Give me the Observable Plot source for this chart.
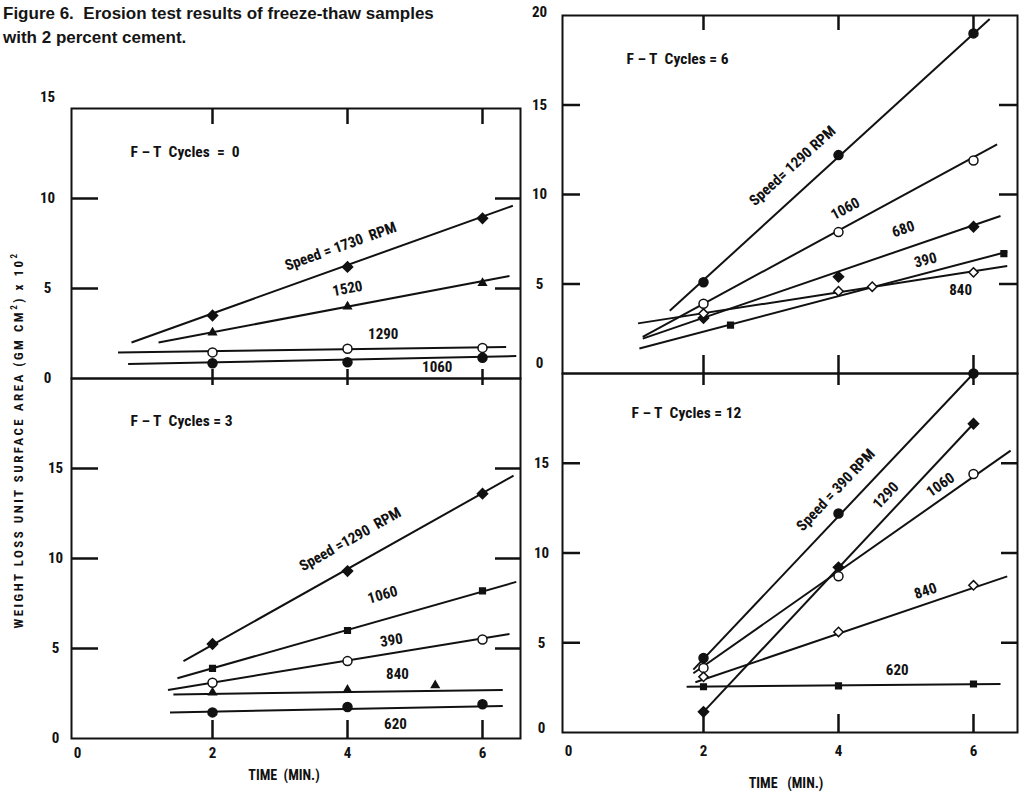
<!DOCTYPE html>
<html><head><meta charset="utf-8">
<script src="https://cdn.jsdelivr.net/npm/d3@7"></script>
<script src="https://cdn.jsdelivr.net/npm/@observablehq/plot@0.6"></script>
<style>
body{margin:0;background:#fff;}
#wrap{position:relative;width:1019px;height:795px;overflow:hidden;background:#fff;}
#title{position:absolute;left:3px;top:2px;font:bold 17px/24px "Liberation Sans",Arial,sans-serif;color:#151515;}
.cond{font-family:"Liberation Sans Narrow","Roboto Condensed",Roboto,sans-serif;font-weight:bold;color:#111;}
#ytitle{position:absolute;left:18px;top:440px;transform:translate(-50%,-50%) rotate(-90deg);white-space:nowrap;font-size:13px;letter-spacing:2.5px;}
#ytitle sup{font-size:9px;line-height:0;}
</style></head>
<body><div id="wrap">
<div id="title">Figure 6.&nbsp; Erosion test results of freeze-thaw samples<br>with 2 percent cement.</div>
<div id="ytitle" class="cond">WEIGHT LOSS UNIT SURFACE AREA (GM CM<sup>2</sup>) x 10<sup>2</sup></div>
</div>
<script>
// ---------------- data ----------------
const xTickValues = [2, 4, 6];
const xTickLabels = [0, 2, 4, 6];

// F-T Cycles = 0
const ft0Speeds = ["1730", "1520", "1290", "1060"];
const ft0Times  = [[2, 4, 6], [2, 4, 6], [2, 4, 6], [2, 4, 6]];
const ft0Values = [[3.5, 6.2, 8.9], [2.55, 4.0, 5.3], [1.45, 1.65, 1.7], [0.85, 0.9, 1.15]];
const ft0Fits   = [[0.8, 2.0, 6.45, 9.6], [1.2, 2.0, 6.4, 5.7], [0.6, 1.45, 6.35, 1.75], [0.75, 0.8, 6.5, 1.25]];
const ft0YTicks = [0, 5, 10, 15];

// F-T Cycles = 3
const ft3Speeds = ["1290", "1060", "390", "840", "620"];
const ft3Times  = [[2, 4, 6], [2, 4, 6], [2, 4, 6], [2, 4, 5.3], [2, 4, 6]];
const ft3Values = [[5.25, 9.3, 13.6], [3.9, 6.0, 8.2], [3.1, 4.3, 5.5], [2.55, 2.7, 2.95], [1.45, 1.75, 1.9]];
const ft3Fits   = [[1.57, 4.3, 6.46, 14.6], [1.48, 3.35, 6.5, 8.7], [1.34, 2.7, 6.4, 5.8], [1.42, 2.45, 6.3, 2.7], [1.37, 1.45, 6.3, 1.8]];
const ft3YTicks = [0, 5, 10, 15];

// F-T Cycles = 6
const ft6Speeds = ["1290", "1060", "680", "390", "840"];
const ft6Times  = [[2, 4, 6], [2, 4, 6], [2, 4, 6], [2.4, 6.45], [2, 4, 4.5, 6]];
const ft6Values = [[5.1, 12.2, 19.0], [3.9, 7.9, 11.9], [3.1, 5.4, 8.2], [2.7, 6.7], [3.35, 4.6, 4.85, 5.65]];
const ft6Fits   = [[1.5, 3.5, 6.24, 19.8], [1.1, 2.05, 6.35, 12.8], [1.1, 1.95, 6.4, 8.8], [1.05, 1.4, 6.5, 6.8], [1.03, 2.8, 6.5, 6.0]];
const ft6YTicks = [0, 5, 10, 15, 20];

// F-T Cycles = 12
const ft12Speeds = ["390", "1290", "1060", "840", "620"];
const ft12Times  = [[2, 4, 6], [2, 4, 6], [2, 4, 6], [2, 4, 6], [2, 4, 6]];
const ft12Values = [[4.15, 12.2, 20.0], [1.15, 9.2, 17.2], [3.6, 8.7, 14.4], [3.1, 5.6, 8.2], [2.55, 2.6, 2.7]];
const ft12Fits   = [[1.85, 3.5, 6.0, 20.0], [2.0, 1.15, 6.0, 17.2], [1.85, 3.3, 6.55, 15.7], [1.88, 2.8, 6.5, 8.7], [1.75, 2.55, 6.4, 2.7]];
const ft12YTicks = [0, 5, 10, 15];

// ---------------- styles & layout ----------------
const INK = "#111";
const FONT = '"Liberation Sans Narrow","Roboto Condensed",Roboto,sans-serif';
const markerStyles = {
  fd: {symbol: "diamond2", fill: INK, stroke: INK, r: 4.6},
  od: {symbol: "diamond2", fill: "white", stroke: INK, r: 4.2},
  ft: {symbol: "triangle", fill: INK, stroke: INK, r: 2.8},
  oc: {symbol: "circle", fill: "white", stroke: INK, r: 4.5},
  fc: {symbol: "circle", fill: INK, stroke: INK, r: 4.5},
  fs: {symbol: "square", fill: INK, stroke: INK, r: 3.2}
};

const panels = [
  { title: "F \u2013 T\u00a0 Cycles\u00a0 = \u00a00", titleDx: 59, titleDy: 44,
    speeds: ft0Speeds, times: ft0Times, values: ft0Values, fits: ft0Fits, yTicks: ft0YTicks,
    frame: [71, 108, 520, 378], xDomain: [-0.089, 6.563], yDomain: [0, 15],
    markers: ["fd", "ft", "oc", "fc"],
    labels: [
      {text: "Speed = 1730\u00a0 RPM", at: 3.9, dy: -21, rot: true},
      {text: "1520", at: 4.0, dy: -18, rot: true},
      {text: "1290", at: 4.53, dy: -15, rot: false},
      {text: "1060", at: 5.33, dy: 10, rot: false}],
    leftTicks: [5, 10], rightTicks: [5, 10], leftLen: 27, rightLen: 25,
    topTicks: xTickValues, bottomTicks: xTickValues, topLen: 16, bottomLen: 9,
    yLabelDx: -24, yLabelShift: {15: -11}, xLabels: null },
  { title: "F \u2013 T\u00a0 Cycles = 3", titleDx: 59, titleDy: 43,
    speeds: ft3Speeds, times: ft3Times, values: ft3Values, fits: ft3Fits, yTicks: ft3YTicks,
    frame: [71, 378, 520, 738], xDomain: [-0.089, 6.563], yDomain: [0, 20],
    markers: ["fd", "fs", "oc", "ft", "fc"],
    labels: [
      {text: "Speed =1290\u00a0 RPM", at: 4.04, dy: -28, rot: true},
      {text: "1060", at: 4.52, dy: -25, rot: true},
      {text: "390", at: 4.65, dy: -13, rot: true},
      {text: "840", at: 4.74, dy: -17, rot: false},
      {text: "620", at: 4.71, dy: 16, rot: false}],
    leftTicks: [5, 10, 15], rightTicks: [5, 10, 15], leftLen: 27, rightLen: 25,
    topTicks: xTickValues, bottomTicks: xTickValues, topLen: 7, bottomLen: 18,
    yLabelDx: -16, yLabelShift: {}, xLabels: xTickLabels, xLabelDy: 15,
    axisTitle: "TIME\u00a0 (MIN.)", axisTitleDx: -12, axisTitleDy: 37 },
  { title: "F \u2013 T\u00a0 Cycles = 6", titleDx: 64, titleDy: 44,
    speeds: ft6Speeds, times: ft6Times, values: ft6Values, fits: ft6Fits, yTicks: ft6YTicks,
    frame: [562, 15, 1017, 373], xDomain: [-0.089, 6.652], yDomain: [0, 20],
    markers: ["fc", "oc", "fd", "fs", "od"],
    labels: [
      {text: "Speed= 1290 RPM", at: 3.32, dy: -33, rot: true},
      {text: "1060", at: 4.1, dy: -18, rot: true},
      {text: "680", at: 4.96, dy: -20, rot: true},
      {text: "390", at: 5.29, dy: -13, rot: true},
      {text: "840", at: 5.81, dy: 17, rot: false}],
    leftTicks: [5, 10, 15], rightTicks: [5, 10, 15], leftLen: 18, rightLen: 18,
    topTicks: xTickValues, bottomTicks: xTickValues, topLen: 15, bottomLen: 18,
    yLabelDx: -23, yLabelShift: {0: -10, 20: -3}, xLabels: null },
  { title: "F \u2013 T\u00a0 Cycles = 12", titleDx: 69, titleDy: 40,
    speeds: ft12Speeds, times: ft12Times, values: ft12Values, fits: ft12Fits, yTicks: ft12YTicks,
    frame: [562, 373, 1017, 732], xDomain: [-0.089, 6.652], yDomain: [0, 20],
    markers: ["fc", "fd", "oc", "od", "fs"],
    labels: [
      {text: "Speed = 390 RPM", at: 3.96, dy: -29, rot: true},
      {text: "1290", at: 4.7, dy: -22, rot: true},
      {text: "1060", at: 5.51, dy: -15, rot: true},
      {text: "840", at: 5.29, dy: -13, rot: true},
      {text: "620", at: 4.87, dy: -15, rot: false}],
    leftTicks: [5, 10, 15], rightTicks: [5, 10, 15], leftLen: 18, rightLen: 16,
    topTicks: xTickValues, bottomTicks: xTickValues, topLen: 12, bottomLen: 18,
    yLabelDx: -21, yLabelShift: {0: -4}, xLabels: xTickLabels, xLabelDy: 19,
    axisTitle: "TIME\u00a0 \u00a0(MIN.)", axisTitleDx: -4, axisTitleDy: 51 }
];

function lineAt(f, t) { return f[1] + (t - f[0]) * (f[3] - f[1]) / (f[2] - f[0]); }

const wrap = document.getElementById("wrap");
const M = 40;

for (const cfg of panels) {
  const [L, T, R, B] = cfg.frame;
  const fw = R - L, fh = B - T;
  const kx = fw / (cfg.xDomain[1] - cfg.xDomain[0]);
  const ky = fh / (cfg.yDomain[1] - cfg.yDomain[0]);
  const marks = [];
  // inward tick marks
  marks.push(Plot.tickY(cfg.leftTicks, {y: d => d, insetRight: fw - cfg.leftLen, stroke: INK, strokeWidth: 2.5}));
  marks.push(Plot.tickY(cfg.rightTicks, {y: d => d, insetLeft: fw - cfg.rightLen, stroke: INK, strokeWidth: 2.5}));
  marks.push(Plot.tickX(cfg.topTicks, {x: d => d, insetBottom: fh - cfg.topLen, stroke: INK, strokeWidth: 2.5}));
  marks.push(Plot.tickX(cfg.bottomTicks, {x: d => d, insetTop: fh - cfg.bottomLen, stroke: INK, strokeWidth: 2.5}));
  marks.push(Plot.frame({stroke: INK, strokeWidth: 2}));
  // fitted lines
  marks.push(Plot.link(cfg.fits, {x1: d => d[0], y1: d => d[1], x2: d => d[2], y2: d => d[3], stroke: INK, strokeWidth: 2}));
  // measured points
  cfg.speeds.forEach((s, i) => {
    const ms = markerStyles[cfg.markers[i]];
    const idx = d3.range(cfg.times[i].length);
    marks.push(Plot.dot(idx, {x: j => cfg.times[i][j], y: j => cfg.values[i][j],
      symbol: ms.symbol, fill: ms.fill, stroke: ms.stroke, strokeWidth: 1.5, r: ms.r}));
  });
  // series labels placed along their fitted lines
  cfg.labels.forEach((lab, i) => {
    const f = cfg.fits[i];
    const slope = (f[3] - f[1]) / (f[2] - f[0]);
    const angle = lab.rot ? -Math.atan(slope * ky / kx) * 180 / Math.PI : 0;
    marks.push(Plot.text([lab], {x: d => d.at, y: d => lineAt(f, d.at), text: d => d.text,
      dy: lab.dy, rotate: angle, textAnchor: "middle", lineAnchor: "middle", fontSize: 15}));
  });
  // panel title
  marks.push(Plot.text([cfg.title], {frameAnchor: "top-left", text: d => d, dx: cfg.titleDx, dy: cfg.titleDy,
    textAnchor: "start", lineAnchor: "middle", fontSize: 15.5}));
  // y tick labels
  cfg.yTicks.forEach(v => {
    marks.push(Plot.text([v], {y: d => d, text: d => String(d), frameAnchor: "left", dx: cfg.yLabelDx,
      dy: cfg.yLabelShift[v] || 0, textAnchor: "middle", lineAnchor: "middle", fontSize: 15}));
  });
  // x tick labels + axis title
  if (cfg.xLabels) {
    marks.push(Plot.text(cfg.xLabels, {x: d => d, text: d => String(d), frameAnchor: "bottom", dy: cfg.xLabelDy,
      textAnchor: "middle", lineAnchor: "middle", fontSize: 15}));
    marks.push(Plot.text([cfg.axisTitle], {frameAnchor: "bottom", text: d => d, dx: cfg.axisTitleDx, dy: cfg.axisTitleDy,
      textAnchor: "middle", lineAnchor: "middle", fontSize: 14}));
  }
  const plot = Plot.plot({
    width: fw + 2 * M, height: fh + 2 * M, margin: M,
    x: {domain: cfg.xDomain, axis: null},
    y: {domain: cfg.yDomain, axis: null},
    style: {background: "none", overflow: "visible", fontFamily: FONT, fontWeight: "bold", color: INK},
    marks
  });
  plot.style.position = "absolute";
  plot.style.left = (L - M) + "px";
  plot.style.top = (T - M) + "px";
  plot.style.maxWidth = "none";
  wrap.appendChild(plot);
}
</script>
</body></html>
